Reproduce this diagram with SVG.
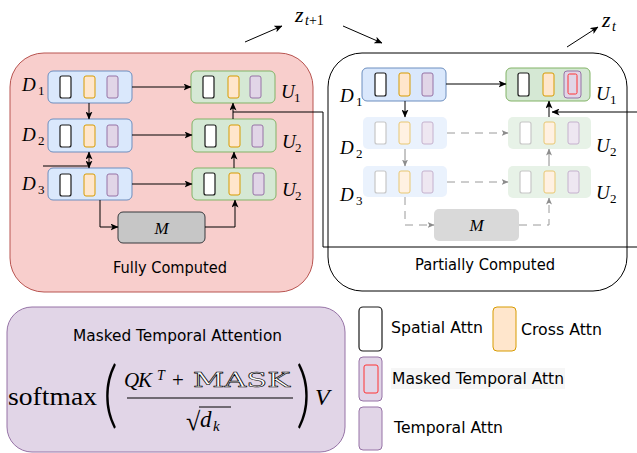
<svg xmlns="http://www.w3.org/2000/svg" width="637" height="453" viewBox="0 0 637 453">
<style>
.bg{fill:#ffffff}
.pnlF{fill:#f8cecc;stroke:#b85450;stroke-width:1}
.pnlP{fill:#ffffff;stroke:#000000;stroke-width:1}
.blue{fill:#dae8fc;stroke:#6c8ebf;stroke-width:1}
.green{fill:#d5e8d4;stroke:#82b366;stroke-width:1}
.sp{fill:#ffffff;stroke:#1a1a1a;stroke-width:1.2}
.cr{fill:#ffe6cc;stroke:#d79b00;stroke-width:1}
.tm{fill:#e1d5e7;stroke:#9673a6;stroke-width:1}
.mk{fill:none;stroke:#ff3333;stroke-width:1}
.mbox{fill:#c6c6c6;stroke:#36393d;stroke-width:1}
.fade{opacity:0.55}
.nostroke{stroke:none}
.c{fill:none;stroke:#000000;stroke-width:1}
.cg{fill:none;stroke:#8c8c8c;stroke-width:1}
.d{fill:none;stroke:#9a9a9a;stroke-width:1;stroke-dasharray:8 6}
.m{font-family:"Liberation Serif",serif;font-style:italic;fill:#000}
.r{font-family:"Liberation Serif",serif;font-style:normal;fill:#000}
.p{font-family:"Lato",sans-serif;font-weight:300;fill:#000}
.t{font-family:"DejaVu Sans","Noto Sans",sans-serif;font-size:15px;fill:#000}
</style>
<defs>
<marker id="a" markerUnits="userSpaceOnUse" markerWidth="8" markerHeight="7" refX="7.5" refY="3.5" orient="auto-start-reverse" viewBox="0 0 8 7">
<path d="M0,0 L8,3.5 L0,7 L2,3.5 z" fill="#000"/>
</marker>
<marker id="ag" markerUnits="userSpaceOnUse" markerWidth="7" markerHeight="6" refX="6.5" refY="3" orient="auto" viewBox="0 0 7 6">
<path d="M0,0 L7,3 L0,6 L1.8,3 z" fill="#8c8c8c"/>
</marker>
</defs>
<rect class="bg" x="0" y="0" width="637" height="453"/>

<!-- panels -->
<g id="panel-full">
<rect class="pnlF" x="10" y="53" width="303" height="239" rx="34"/>
<text class="t" x="113" y="273" font-size="16" textLength="114" lengthAdjust="spacingAndGlyphs">Fully Computed</text>
</g>
<g id="panel-partial">
<rect class="pnlP" x="328" y="53" width="299" height="238" rx="34"/>
<text class="t" x="415" y="270" font-size="16" textLength="140" lengthAdjust="spacingAndGlyphs">Partially Computed</text>
</g>

<!-- left nodes -->
<g id="L-D1">
<rect class="blue" x="48" y="71" width="84" height="32" rx="5"/>
<rect class="sp" x="60" y="76" width="11" height="22" rx="2"/>
<rect class="cr" x="84" y="76" width="11" height="22" rx="2"/>
<rect class="tm" x="107" y="76" width="11" height="22" rx="2"/>
<text class="m" x="22" y="91" font-size="19">D</text><text class="r" x="38" y="95" font-size="13">1</text>
</g>
<g id="L-D2">
<rect class="blue" x="48" y="119" width="84" height="33" rx="5"/>
<rect class="sp" x="60" y="125" width="11" height="22" rx="2"/>
<rect class="cr" x="84" y="125" width="11" height="22" rx="2"/>
<rect class="tm" x="107" y="125" width="11" height="22" rx="2"/>
<text class="m" x="22" y="141" font-size="19">D</text><text class="r" x="38" y="145" font-size="13">2</text>
</g>
<g id="L-D3">
<rect class="blue" x="48" y="168" width="84" height="32" rx="5"/>
<rect class="sp" x="60" y="174" width="11" height="22" rx="2"/>
<rect class="cr" x="84" y="174" width="11" height="22" rx="2"/>
<rect class="tm" x="107" y="174" width="11" height="22" rx="2"/>
<text class="m" x="22" y="190" font-size="19">D</text><text class="r" x="38" y="194" font-size="13">3</text>
</g>
<g id="L-U1">
<rect class="green" x="191" y="71" width="84" height="32" rx="5"/>
<rect class="sp" x="203" y="76" width="11" height="22" rx="2"/>
<rect class="cr" x="228" y="76" width="11" height="22" rx="2"/>
<rect class="tm" x="250" y="76" width="11" height="22" rx="2"/>
<text class="m" x="281" y="98" font-size="19">U</text><text class="r" x="294" y="102" font-size="13">1</text>
</g>
<g id="L-U2a">
<rect class="green" x="192" y="119" width="84" height="33" rx="5"/>
<rect class="sp" x="205" y="125" width="11" height="22" rx="2"/>
<rect class="cr" x="229" y="125" width="11" height="22" rx="2"/>
<rect class="tm" x="252" y="125" width="11" height="22" rx="2"/>
<text class="m" x="282" y="148" font-size="19">U</text><text class="r" x="295" y="152" font-size="13">2</text>
</g>
<g id="L-U2b">
<rect class="green" x="192" y="168" width="84" height="32" rx="5"/>
<rect class="sp" x="204" y="173" width="11" height="22" rx="2"/>
<rect class="cr" x="229" y="173" width="11" height="22" rx="2"/>
<rect class="tm" x="253" y="173" width="11" height="22" rx="2"/>
<text class="m" x="282" y="196" font-size="19">U</text><text class="r" x="295" y="200" font-size="13">2</text>
</g>
<g id="L-M">
<rect class="mbox" x="118" y="212" width="87" height="31" rx="5"/>
<text class="m" x="161.5" y="234" font-size="17" text-anchor="middle">M</text>
</g>

<!-- right nodes -->
<g id="R-D1">
<rect class="blue" x="362" y="68" width="84" height="33" rx="5"/>
<rect class="sp" x="375" y="73" width="11" height="23" rx="2"/>
<rect class="cr" x="399" y="73" width="11" height="23" rx="2"/>
<rect class="tm" x="422" y="73" width="11" height="23" rx="2"/>
<text class="m" x="340" y="102" font-size="19">D</text><text class="r" x="356" y="106" font-size="13">1</text>
</g>
<g id="R-D2">
<g class="fade">
<rect class="blue nostroke" x="363" y="117" width="84" height="32" rx="5"/>
<rect class="sp" x="375" y="122" width="11" height="22" rx="2" style="stroke:#9a9a9a"/>
<rect class="cr" x="399" y="122" width="11" height="22" rx="2"/>
<rect class="tm" x="422" y="122" width="11" height="22" rx="2"/>
</g>
<text class="m" x="340" y="154" font-size="19">D</text><text class="r" x="356" y="158" font-size="13">2</text>
</g>
<g id="R-D3">
<g class="fade">
<rect class="blue nostroke" x="363" y="166" width="84" height="31" rx="5"/>
<rect class="sp" x="375" y="171" width="11" height="22" rx="2" style="stroke:#9a9a9a"/>
<rect class="cr" x="399" y="171" width="11" height="22" rx="2"/>
<rect class="tm" x="422" y="171" width="11" height="22" rx="2"/>
</g>
<text class="m" x="340" y="201" font-size="19">D</text><text class="r" x="356" y="205" font-size="13">3</text>
</g>
<g id="R-U1">
<rect class="green" x="506" y="68" width="84" height="33" rx="5"/>
<rect class="sp" x="518" y="73" width="11" height="23" rx="2"/>
<rect class="cr" x="543" y="73" width="11" height="23" rx="2"/>
<rect class="tm" x="564" y="71" width="17" height="27" rx="3"/>
<rect class="mk" x="568" y="74" width="9" height="20" rx="1.5"/>
<text class="m" x="596" y="100" font-size="19">U</text><text class="r" x="610" y="104" font-size="13">1</text>
</g>
<g id="R-U2a">
<g class="fade">
<rect class="green nostroke" x="508" y="117" width="83" height="32" rx="5"/>
<rect class="sp" x="520" y="122" width="11" height="22" rx="2" style="stroke:#9a9a9a"/>
<rect class="cr" x="544" y="122" width="11" height="22" rx="2"/>
<rect class="tm" x="568" y="122" width="11" height="22" rx="2"/>
</g>
<text class="m" x="596" y="152" font-size="19">U</text><text class="r" x="610" y="156" font-size="13">2</text>
</g>
<g id="R-U2b">
<g class="fade">
<rect class="green nostroke" x="508" y="166" width="83" height="32" rx="5"/>
<rect class="sp" x="520" y="171" width="11" height="22" rx="2" style="stroke:#9a9a9a"/>
<rect class="cr" x="544" y="171" width="11" height="22" rx="2"/>
<rect class="tm" x="568" y="171" width="11" height="22" rx="2"/>
</g>
<text class="m" x="596" y="199" font-size="19">U</text><text class="r" x="610" y="203" font-size="13">2</text>
</g>
<g id="R-M">
<rect x="434" y="209" width="85" height="32" rx="5" fill="#d9d9d9"/>
<text class="m" x="476.5" y="231" font-size="17" text-anchor="middle">M</text>
</g>

<!-- top labels -->
<g id="z-t1">
<text class="m" x="295" y="22" font-size="22">z</text><text class="m" x="305" y="25" font-size="14">t<tspan class="r" style="font-style:normal">+1</tspan></text>
</g>
<g id="z-t">
<text class="m" x="602" y="27" font-size="22">z</text><text class="m" x="612" y="31" font-size="14">t</text>
</g>

<!-- connectors -->
<g id="connectors">
<path class="c" d="M245,42 L282,26" marker-end="url(#a)"/>
<path class="c" d="M343,26 L382,43" marker-end="url(#a)"/>
<path class="c" d="M567,47 L598,27" marker-end="url(#a)"/>

<path class="c" d="M132,87 H191" marker-end="url(#a)"/>
<path class="c" d="M132,135 H192" marker-end="url(#a)"/>
<path class="c" d="M132,184 H192" marker-end="url(#a)"/>
<path class="c" d="M89,103 V119" marker-end="url(#a)"/>
<path class="c" d="M89,152 V168" marker-start="url(#a)" marker-end="url(#a)" stroke-width="1.4"/>
<path class="c" d="M43,166 H89"/>
<path class="c" d="M100,200 V227 H118" marker-end="url(#a)"/>
<path class="c" d="M205,227 H235 V200" marker-end="url(#a)"/>
<path class="c" d="M234,168 V152" marker-end="url(#a)"/>
<path class="c" d="M233,119 V103" marker-end="url(#a)"/>
<path class="c" d="M233,112 H323 V247 H637"/>

<path class="c" d="M446,84 H506" marker-end="url(#a)"/>
<path class="c" d="M405,101 V117" marker-end="url(#a)"/>
<path class="cg" d="M405,149 V166" marker-end="url(#ag)"/>
<path class="d" d="M447,133 H508" marker-end="url(#ag)"/>
<path class="d" d="M447,182 H508" marker-end="url(#ag)"/>
<path class="d" d="M405,197 V225 H434" marker-end="url(#ag)"/>
<path class="d" d="M519,225 H549 V198" marker-end="url(#ag)"/>
<path class="cg" d="M549,166 V149" marker-end="url(#ag)"/>
<path class="c" d="M549,117 V101" marker-end="url(#a)"/>
<path class="c" d="M637,112 H552" marker-end="url(#a)"/>
</g>

<!-- formula box -->
<g id="formula">
<rect x="7" y="307" width="338" height="145" rx="25" fill="#e1d5e7" stroke="#9673a6" stroke-width="1"/>
<text class="t" x="73" y="341" font-size="16" textLength="209" lengthAdjust="spacingAndGlyphs">Masked Temporal Attention</text>
<text class="r" x="8" y="405" font-size="25" textLength="89" lengthAdjust="spacingAndGlyphs">softmax</text>
<text class="p" transform="translate(103,419) scale(0.8,1)" font-size="72">(</text>
<text class="m" x="124" y="387" font-size="21">Q</text>
<text class="m" x="138" y="387" font-size="21">K</text>
<text class="m" x="157" y="380" font-size="14">T</text>
<text class="r" x="172" y="387" font-size="21">+</text>
<text x="193" y="387" font-size="20" font-family="DejaVu Serif, serif" fill="#ffffff" stroke="#000" stroke-width="0.6" textLength="97" lengthAdjust="spacingAndGlyphs">MASK</text>
<path d="M127,398 H293" stroke="#000" stroke-width="1.2"/>
<text class="r" x="186" y="430" font-size="26">√</text>
<path d="M199,407 H231" stroke="#000" stroke-width="1"/>
<text class="m" x="200" y="427" font-size="23">d</text>
<text class="m" x="213" y="431" font-size="15">k</text>
<text class="p" transform="translate(296,419) scale(0.8,1)" font-size="72">)</text>
<text class="m" x="315" y="405" font-size="24">V</text>
</g>

<!-- legend -->
<g id="legend-spatial">
<rect class="sp" x="359" y="307" width="23" height="44" rx="4"/>
<text class="t" x="391" y="333" textLength="92" lengthAdjust="spacingAndGlyphs">Spatial Attn</text>
</g>
<g id="legend-cross">
<rect class="cr" x="493" y="307" width="23" height="44" rx="4"/>
<text class="t" x="521" y="335" textLength="81" lengthAdjust="spacingAndGlyphs">Cross Attn</text>
</g>
<g id="legend-masked">
<rect class="tm" x="359" y="357" width="23" height="44" rx="4"/>
<rect class="mk" x="364" y="365" width="14" height="28" rx="2"/>
<rect x="391" y="368" width="174" height="21" fill="#f6f6f6"/>
<text class="t" x="392" y="384" textLength="172" lengthAdjust="spacingAndGlyphs">Masked Temporal Attn</text>
</g>
<g id="legend-temporal">
<rect class="tm" x="359" y="407" width="23" height="43" rx="4"/>
<text class="t" x="394" y="433" textLength="109" lengthAdjust="spacingAndGlyphs">Temporal Attn</text>
</g>
</svg>
